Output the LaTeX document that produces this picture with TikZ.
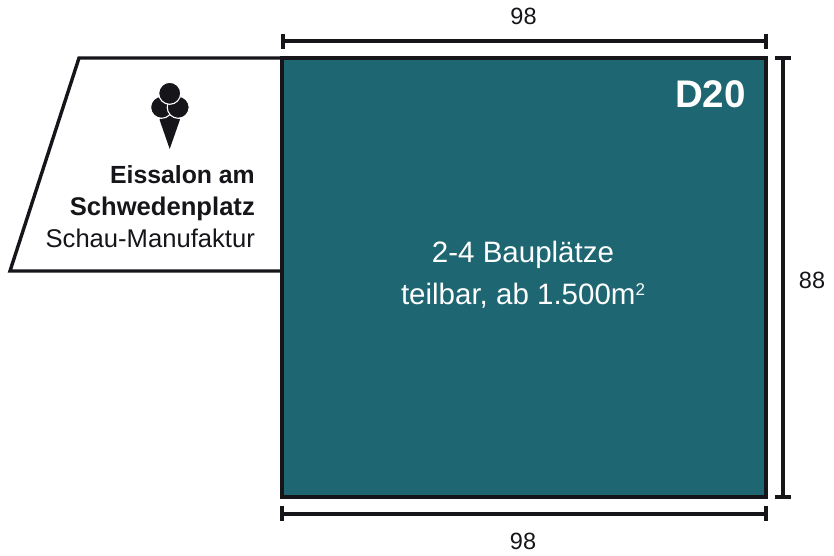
\documentclass[tikz,border=0pt]{standalone}
\usepackage{fontspec}
\setmainfont{Liberation Sans}
\definecolor{teal20}{HTML}{1D6672}
\definecolor{ink}{HTML}{15151A}
\tikzset{
  x=1pt,y=-1pt,
  outline/.style={draw=ink,line width=3.4pt,line join=miter},
  dimline/.style={draw=ink,line width=3.4pt},
  tickmark/.style={draw=ink,line width=3.2pt},
  txt/.style={text=ink,inner sep=0pt,anchor=base,font=\fontsize{23.5}{26}\selectfont},
  midtxt/.style={text=white,inner sep=0pt,anchor=base,font=\fontsize{29.5}{32}\selectfont},
  sidetxt/.style={text=ink,inner sep=0pt,anchor=base east,font=\fontsize{25.6}{28}\selectfont},
  scoop/.style={fill=ink,draw=white,line width=1.1pt},
}
\begin{document}
\begin{tikzpicture}
\useasboundingbox (0,0) rectangle (834,555);
% annex
\draw[outline,fill=white] (79,58) -- (282,58) -- (282,271) -- (10,271) -- cycle;
% main plot
\node[outline,fill=teal20,minimum width=484pt,minimum height=439pt,inner sep=0pt,outer sep=0pt,anchor=north west] (plot) at (282,58) {};
% dimension ends
\coordinate (tl) at (283,41); \coordinate (tr) at (766,41);
\coordinate (rt) at (783,58); \coordinate (rb) at (783,497);
\coordinate (bl) at (282,513.5); \coordinate (br) at (766,513.5);
\draw[dimline] (tl) -- (tr);
\draw[tickmark] (283,33.5) -- (283,48.5);
\draw[tickmark] (766,33.5) -- (766,48.5);
\draw[dimline] (rt) -- (rb);
\draw[tickmark] (775,58) -- (791,58);
\draw[tickmark] (775,497) -- (791,497);
\draw[dimline,line width=4pt] (bl) -- (br);
\draw[tickmark] (282,506) -- (282,521);
\draw[tickmark] (766,506) -- (766,521);
% ice cream
\fill[ink] (159.5,119.5) -- (169.7,112) -- (180,119.5) -- (169.7,149) -- cycle;
\draw[scoop] (161.6,107.3) circle (11);
\draw[scoop] (178.2,107.3) circle (11);
\draw[scoop] (169.7,93.3) circle (11);
% labels
\node[txt] (top) at (523.5,24) {98};
\node[txt] (bottom) at (523,549) {98};
\node[txt] (side) at (812,288) {88};
\node[anchor=base east,text=white,inner sep=0pt,font=\fontsize{38.5}{40}\selectfont\bfseries] (code) at (746,107) {D20};
\node[midtxt] (l1) at (523,262) {2-4 Bauplätze};
\node[midtxt] (l2) at (523,304) {teilbar, ab 1.500m\raisebox{9pt}{\fontsize{17}{17}\selectfont 2}};
\node[sidetxt,font=\fontsize{24.8}{28}\selectfont\bfseries] (e1) at (255,183) {Eissalon am};
\node[sidetxt,font=\fontsize{25.6}{28}\selectfont\bfseries] (e2) at (255,215) {Schwedenplatz};
\node[sidetxt] (e3) at (255,247) {Schau-Manufaktur};
\end{tikzpicture}
\end{document}
